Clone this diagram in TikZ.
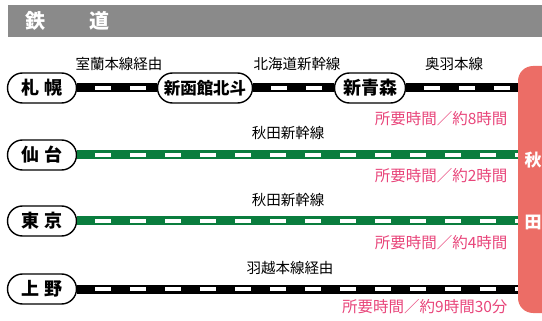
\documentclass[tikz,border=0pt]{standalone}
\usepackage{fontspec}
\setmainfont{Noto Sans CJK JP}
\definecolor{headgray}{HTML}{8A8A8A}
\definecolor{akitared}{HTML}{EC6D66}
\definecolor{timepink}{HTML}{E8457A}
\definecolor{komachi}{HTML}{0A7D3E}

\tikzset{
	station/.style={draw, line width=1.4pt, fill=white, rounded corners=15pt, minimum height=30pt, minimum width=69pt, inner sep=0pt, font=\fontsize{18}{18}\selectfont\bfseries},
	rail/.style={line width=9pt},
	railgap/.style={white, line width=4pt, dash pattern=on 16pt off 19pt, dash phase=17pt},
	linename/.style={font=\fontsize{14.5}{14.5}\selectfont},
	ridetime/.style={timepink, anchor=east, font=\fontsize{15.5}{15.5}\selectfont},
	whitebold/.style={white, font=\fontsize{20}{20}\selectfont\bfseries},
}

\begin{document}
\begin{tikzpicture}[x=1pt,y=-1pt]
		\useasboundingbox (0,0) rectangle (542,321);
		% title band
		\fill[headgray] (8,5) rectangle (542,37);
		\node[whitebold] (tetsu) at (35,21) {鉄};
		\node[whitebold] (michi) at (99,21) {道};

		% stations
		\node[station] (sapporo) at (42,88) {札\hspace{0.3em}幌};
		\node[station, minimum width=95pt, font=\fontsize{16.5}{16.5}\selectfont\bfseries] (hakodate) at (205,88) {新函館北斗};
		\node[station, minimum width=71pt] (aomori) at (370,88) {新青森};
		\node[station] (sendai) at (42,155) {仙\hspace{0.3em}台};
		\node[station] (tokyo) at (42,221) {東\hspace{0.3em}京};
		\node[station] (ueno) at (42,289) {上\hspace{0.3em}野};
		\coordinate (aomoriend) at (525,88);
		\coordinate (sendaiend) at (525,155);
		\coordinate (tokyoend) at (525,221);
		\coordinate (uenoend) at (525,289);

		% rails
		\draw[rail] (sapporo.east) -- (hakodate.west);
		\draw[railgap] (sapporo.east) -- (hakodate.west);
		\draw[rail] (hakodate.east) -- (aomori.west);
		\draw[railgap] (hakodate.east) -- (aomori.west);
		\draw[rail] (aomori.east) -- (aomoriend);
		\draw[railgap] (aomori.east) -- (aomoriend);
		\draw[rail, komachi] (sendai.east) -- (sendaiend);
		\draw[railgap] (sendai.east) -- (sendaiend);
		\draw[rail, komachi] (tokyo.east) -- (tokyoend);
		\draw[railgap] (tokyo.east) -- (tokyoend);
		\draw[rail] (ueno.east) -- (uenoend);
		\draw[railgap] (ueno.east) -- (uenoend);

		% line names
		\node[linename] (muroran) at (119,64) {室蘭本線経由};
		\node[linename] (hokkaido) at (297,64) {北海道新幹線};
		\node[linename] (ou) at (454,64) {奥羽本線};
		\node[linename] (akitaone) at (288,133) {秋田新幹線};
		\node[linename] (akitatwo) at (288,200) {秋田新幹線};
		\node[linename] (uetsu) at (290,268) {羽越本線経由};

		% travel times
		\node[ridetime] (timesapporo) at (511,119) {所要時間／約8時間};
		\node[ridetime] (timesendai) at (511,176) {所要時間／約2時間};
		\node[ridetime] (timetokyo) at (511,243) {所要時間／約4時間};
		\node[ridetime] (timeueno) at (511,307) {所要時間／約9時間30分};

		% Akita
		\fill[akitared, rounded corners=15pt] (518,66) rectangle (570,313);
		\node[whitebold, font=\fontsize{17}{17}\selectfont\bfseries] (aki) at (533,160) {秋};
		\node[whitebold, font=\fontsize{17}{17}\selectfont\bfseries] (ta) at (533,222) {田};
\end{tikzpicture}
\end{document}
